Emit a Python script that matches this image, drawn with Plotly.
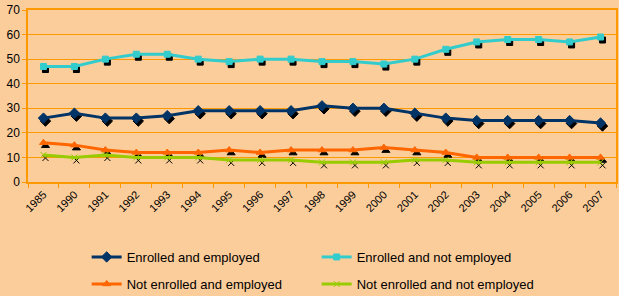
import plotly.graph_objects as go

years = ['1985', '1990', '1991', '1992', '1993', '1994', '1995', '1996', '1997', '1998',
         '1999', '2000', '2001', '2002', '2003', '2004', '2005', '2006', '2007']
enrolled_employed = [26, 28, 26, 26, 27, 29, 29, 29, 29, 31, 30, 30, 28, 26, 25, 25, 25, 25, 24]
enrolled_not_employed = [47, 47, 50, 52, 52, 50, 49, 50, 50, 49, 49, 48, 50, 54, 57, 58, 58, 57, 59]
not_enrolled_employed = [16, 15, 13, 12, 12, 12, 13, 12, 13, 13, 13, 14, 13, 12, 10, 10, 10, 10, 10]
not_enrolled_not_employed = [11, 10, 11, 10, 10, 10, 9, 9, 9, 8, 8, 8, 9, 9, 8, 8, 8, 8, 8]

series = [
    ('Enrolled and employed', enrolled_employed, '#003366', 'diamond', 8, 'legend'),
    ('Enrolled and not employed', enrolled_not_employed, '#33CCCC', 'square', 6, 'legend'),
    ('Not enrolled and employed', not_enrolled_employed, '#FF6600', 'triangle-up', 7, 'legend2'),
    ('Not enrolled and not employed', not_enrolled_not_employed, '#99CC00', 'x-thin-open', 6, 'legend2'),
]

W, H = 619, 296
ML, MR, MT, MB = 28, 3, 10, 114
pw, ph = W - ML - MR, H - MT - MB
n = len(years)
xr = [-0.5, n - 0.5]
yr = [0, 70]
# shadow offset (pixels -> axis units)
dx = 2 * n / pw
dy = 3 * 70 / ph

orange = '#FF9900'
bg = '#FBCD9B'

fig = go.Figure()

# invisible trace so the base axes (grid, ticks) get drawn
fig.add_trace(go.Scatter(x=years, y=enrolled_employed, mode='lines',
                         line=dict(color='rgba(0,0,0,0)'), showlegend=False,
                         hoverinfo='skip'))

# drop shadows (black markers, slightly down-right)
for name, vals, color, sym, size, lg in series:
    fig.add_trace(go.Scatter(
        x=years, y=vals, mode='markers', xaxis='x2', yaxis='y2',
        marker=dict(symbol=sym, size=size, color='black',
                    line=dict(color='black', width=1)),
        showlegend=False, hoverinfo='skip'))

for name, vals, color, sym, size, lg in series:
    fig.add_trace(go.Scatter(
        x=years, y=vals, name=name, mode='lines+markers', xaxis='x3', yaxis='y3',
        legend=lg,
        line=dict(color=color, width=3),
        marker=dict(symbol=sym, size=size, color=color,
                    line=dict(color=color, width=1))))

legend_style = dict(orientation='h', xref='container', yref='container',
                    x=0.14, xanchor='left', yanchor='middle',
                    entrywidth=185, bgcolor='rgba(0,0,0,0)',
                    font=dict(size=13), itemwidth=30)

fig.update_layout(
    width=W, height=H,
    margin=dict(l=ML, r=MR, t=MT, b=MB, autoexpand=False),
    paper_bgcolor=bg, plot_bgcolor=bg,
    font=dict(family='Liberation Sans, Arial, sans-serif', color='black', size=12),
    xaxis=dict(type='category', categoryorder='array', categoryarray=years,
               range=xr, tickangle=-45, tickfont=dict(size=11),
               tickson='boundaries', ticks='outside', ticklen=4, tickcolor=orange,
               showline=True, linecolor=orange, linewidth=1.5, mirror=True,
               showgrid=False, zeroline=False),
    yaxis=dict(range=yr, dtick=10, ticks='outside', ticklen=4, tickcolor=orange,
               showline=True, linecolor=orange, linewidth=1.5, mirror=True,
               showgrid=True, gridcolor=orange, gridwidth=1.2, zeroline=False,
               tickfont=dict(size=12)),
    xaxis2=dict(type='category', categoryorder='array', categoryarray=years,
                range=[xr[0] - dx, xr[1] - dx], overlaying='x', visible=False),
    yaxis2=dict(range=[yr[0] + dy, yr[1] + dy], overlaying='y', visible=False),
    xaxis3=dict(type='category', categoryorder='array', categoryarray=years,
                range=xr, overlaying='x', visible=False),
    yaxis3=dict(range=yr, overlaying='y', visible=False),
    legend=dict(legend_style, y=1 - 257 / H),
    legend2=dict(legend_style, y=1 - 284 / H),
    showlegend=True,
)

fig.write_html("out.html", config={'displayModeBar': False},
               post_script="document.body.style.margin='0';")
